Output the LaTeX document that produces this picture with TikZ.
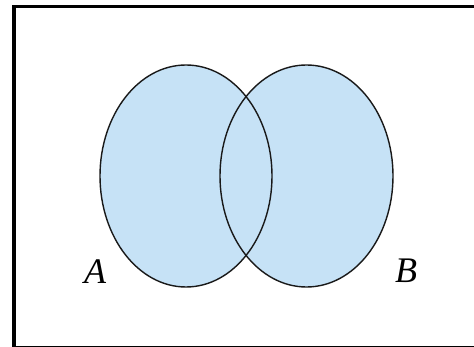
\documentclass[tikz,border=0pt]{standalone}
\usepackage{fontspec}
\setmainfont{Liberation Serif}
\usepackage{tikz}
\usetikzlibrary{positioning}
\definecolor{setblue}{RGB}{198,226,246}

\begin{document}
\begin{tikzpicture}[x=1pt,y=-1pt,
    setfill/.style={fill=setblue},
    setline/.style={draw=black!90,line width=1.4pt},
    setname/.style={font=\fontsize{36}{36}\selectfont\rmfamily\itshape,inner sep=0pt}]
    \useasboundingbox (0,0) rectangle (474,347);
    \begin{scope}
    \clip (0,0) rectangle (474,347);
    % Universe
    \draw[line width=3.5pt] (14,6.5) rectangle (480,347.6);
    \end{scope}
    % Sets: fill first, then outlines
    \fill[setfill] (186,176) ellipse (86 and 111);
    \fill[setfill] (306.5,176) ellipse (86.5 and 111);
    \draw[setline] (186,176) ellipse (86 and 111);
    \draw[setline] (306.5,176) ellipse (86.5 and 111);
    % Labels
    \node[setname] (labA) at (95,272) {A};
    \node[setname] (labB) at (406,271) {B};
\end{tikzpicture}
\end{document}
